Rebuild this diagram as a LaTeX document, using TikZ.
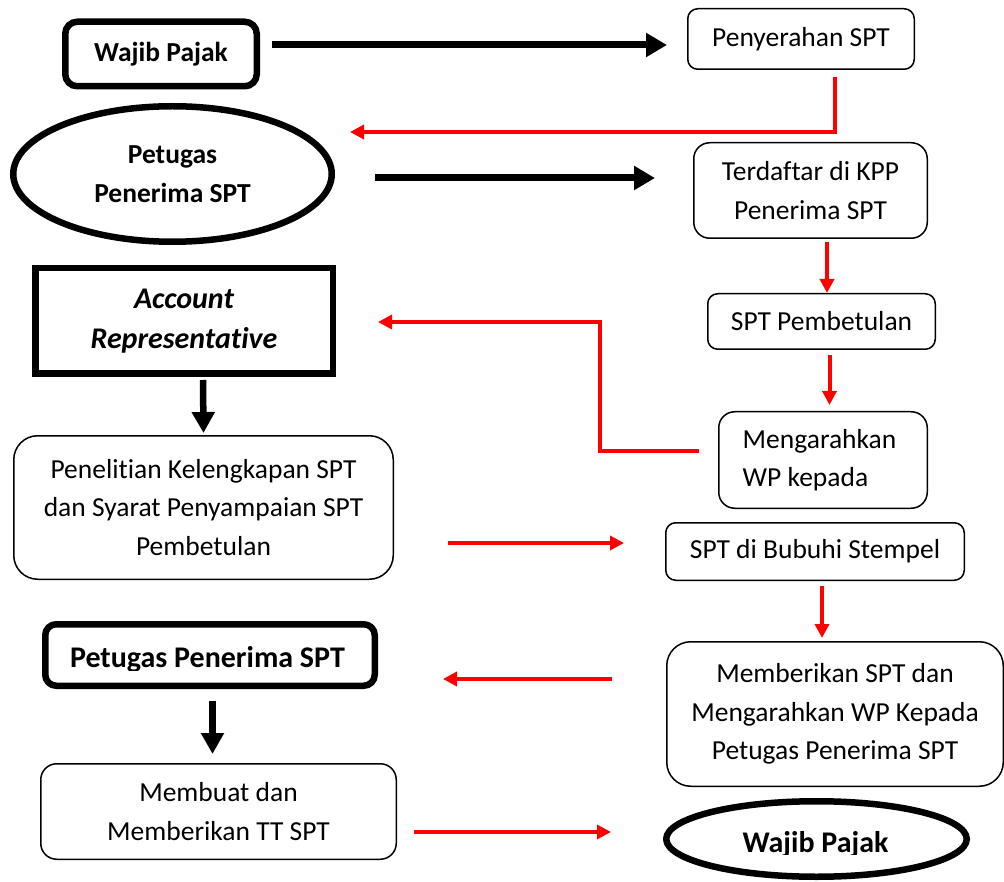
\documentclass[tikz,border=0pt]{standalone}
\usepackage{fontspec}
\setmainfont{Carlito}[RawFeature={-liga;-clig;-dlig;-calt;-rlig}]
\usetikzlibrary{arrows.meta,shapes.geometric}
\newcommand{\nolig}{\kern0pt }
\begin{document}
\begin{tikzpicture}[x=1pt,y=1pt,
  every node/.style={font=\fontsize{27.5}{38.5}\selectfont},
  rbox/.style={draw, line width=1.5pt, rounded corners=#1, inner sep=0pt, align=center},
  thickr/.style={draw, line width=6.5pt, rounded corners=#1, inner sep=0pt, align=center, font=\fontsize{27.5}{38.5}\selectfont\bfseries},
  thicksq/.style={draw, line width=6.5pt, inner sep=0pt, align=center, font=\fontsize{30}{40}\selectfont\bfseries\itshape},
  thickell/.style={draw, ellipse, line width=6.5pt, inner sep=0pt, align=center, font=\fontsize{27.5}{38.5}\selectfont\bfseries},
  bold/.style={font=\fontsize{30}{40}\selectfont\bfseries, inner sep=0pt},
  blkarrow/.style={draw=black, line width=7pt, -{Triangle[length=21pt,width=23pt]}},
  blkdown/.style={draw=black, line width=6.5pt, -{Triangle[length=21pt,width=22pt]}},
  redarrow/.style={draw=red, line width=4pt, -{Triangle[length=14pt,width=14pt]}}]
\useasboundingbox (0,0) rectangle (1004,-882);

% left column
\node[thickr=12pt, minimum width=191.5, minimum height=64.5] (wp1) at (161,-54) {Wajib Pajak};
\node[thickell, minimum width=318.5, minimum height=135.5] (pet1) at (172.5,-174) {Petugas\\Penerima SPT};
\node[thicksq, minimum width=297.5, minimum height=105.5] (acc) at (184,-321) {Account\\Representat\nolig ive};
\node[rbox=24pt, minimum width=379.5, minimum height=143.5] (pnl) at (203.5,-507.5) {Penelit\nolig ian Kelengkapan SPT\\dan Syarat Penyampaian SPT\\Pembetulan};
\node[thickr=11pt, minimum width=329.5, minimum height=61.5] (pet2) at (210,-655) {};
\begin{scope}
  \clip (45,-624) rectangle (375,-670.5);
  \node[bold, anchor=base] (pet2t) at (207.5,-667) {Petugas Penerima SPT};
\end{scope}
\node[rbox=16pt, minimum width=355.5, minimum height=95.5] (mbt) at (218.5,-811.5) {Membuat dan\\Memberikan TT SPT};

% right column
\node[rbox=10pt, minimum width=226.5, minimum height=60.5] (pen) at (801,-39) {Penyerahan SPT};
\node[rbox=16pt, minimum width=233.5, minimum height=95.5] (trd) at (810.5,-190.5) {Terdaftar di KPP\\Penerima SPT};
\node[rbox=10pt, minimum width=227.5, minimum height=55.5] (pmb) at (821.5,-321.5) {SPT Pembetulan};
\node[rbox=16pt, minimum width=208.5, minimum height=96.5, align=left] (mgr) at (823,-460) {Mengarahkan\hspace*{7pt}\\WP kepada};
\node[rbox=10pt, minimum width=298.5, minimum height=57.5] (stp) at (815,-551.5) {SPT di Bubuhi Stempel};
\node[rbox=24pt, minimum width=336.5, minimum height=144.5] (mbr) at (835,-714) {Memberikan SPT dan\\Mengarahkan WP Kepada\\Petugas Penerima SPT};
\node[thickell, minimum width=300.5, minimum height=75.5] (wp2) at (816.5,-839) {};
\begin{scope}
  \clip (666,-801) rectangle (967,-854.5);
  \node[bold, anchor=base] (wp2t) at (815.5,-852) {Wajib Pajak};
\end{scope}

% connectors
\draw[blkarrow] ([xshift=12pt,yshift=9pt]wp1.east) -- ([xshift=-20pt,yshift=-6pt]pen.west);
\draw[redarrow] ([xshift=34pt,yshift=-7pt]pen.south) |- ([xshift=15pt,yshift=42pt]pet1.east);
\draw[blkarrow] ([xshift=40pt,yshift=-4pt]pet1.east) -- ([xshift=-38pt,yshift=12.5pt]trd.west);
\draw[redarrow] ([xshift=16.5pt,yshift=-3pt]trd.south) -- ([xshift=5.5pt]pmb.north);
\draw[redarrow] ([xshift=8pt,yshift=-5pt]pmb.south) -- ([xshift=6.5pt,yshift=6pt]mgr.north);
\draw[redarrow] ([xshift=-19pt,yshift=9pt]mgr.west) -- ++(-99,0) |- ([xshift=42pt,yshift=-1pt]acc.east);
\draw[blkdown] ([xshift=19pt,yshift=-3pt]acc.south) -- ([yshift=2pt]pnl.north);
\draw[redarrow] ([xshift=54pt,yshift=-35.5pt]pnl.east) -- ([xshift=-41pt,yshift=8.5pt]stp.west);
\draw[redarrow] ([xshift=7pt,yshift=-5pt]stp.south) -- ([xshift=-13pt,yshift=3pt]mbr.north);
\draw[redarrow] ([xshift=-54pt,yshift=35pt]mbr.west) -- ([xshift=65pt,yshift=-24pt]pet2.east);
\draw[blkdown] ([xshift=2.5pt,yshift=-12pt]pet2.south) -- ([xshift=-6pt,yshift=9pt]mbt.north);
\draw[redarrow] ([xshift=17pt,yshift=-20.5pt]mbt.east) -- ([xshift=-52pt,yshift=7pt]wp2.west);
\end{tikzpicture}
\end{document}
